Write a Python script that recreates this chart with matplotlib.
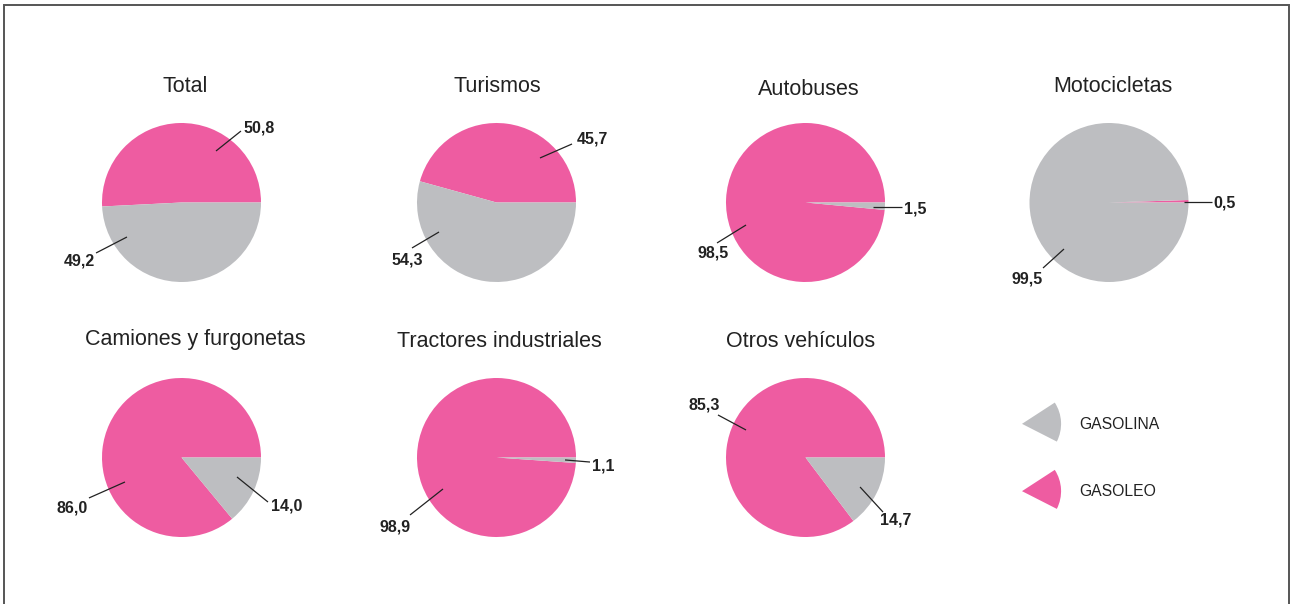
import matplotlib
matplotlib.use("Agg")
import matplotlib.pyplot as plt
from matplotlib.patches import Wedge, Patch, Rectangle
from matplotlib.legend_handler import HandlerBase

plt.rcParams['font.family'] = ['Liberation Sans', 'DejaVu Sans']

# ---------------- data ----------------
titles = ["Total", "Turismos", "Autobuses", "Motocicletas",
          "Camiones y furgonetas", "Tractores industriales", "Otros vehículos"]
gasoleo = [50.8, 45.7, 98.5, 0.5, 86.0, 98.9, 85.3]
gasolina = [49.2, 54.3, 1.5, 99.5, 14.0, 1.1, 14.7]
series_names = ["GASOLINA", "GASOLEO"]

# ---------------- style ----------------
PINK = "#EE5CA1"
GRAY = "#BDBEC1"
TXT = "#222222"

W, H = 1291, 604
R = 79.5  # pie radius in pixels
L = 1.7   # half extent of each pie axes in data units

# pie centers (pixels)
centers = [(181.5, 202.5), (496.5, 202.5), (805.5, 202.5), (1109, 202.5),
           (181.5, 457.5), (496.5, 457.5), (805.5, 457.5)]
# title offsets (data units relative to pie center)
title_pos = [(0.05, 1.46), (0.01, 1.46), (0.04, 1.42), (0.05, 1.46),
             (0.17, 1.48), (0.038, 1.46), (-0.057, 1.46)]

# label layout: (line start, line end, text pos, ha) for gasoleo and gasolina
lab_gasoleo = [
    ((0.434, 0.648), (0.748, 0.899), (0.786, 0.937), 'left'),
    ((0.547, 0.560), (0.950, 0.736), (1.013, 0.799), 'left'),
    ((-0.748, -0.283), (-1.113, -0.509), (-0.962, -0.635), 'right'),
    ((0.943, 0.006), (1.296, 0.006), (1.308, -0.006), 'left'),
    ((-0.711, -0.308), (-1.164, -0.509), (-1.176, -0.635), 'right'),
    ((-0.673, -0.396), (-1.088, -0.723), (-1.075, -0.874), 'right'),
    ((-0.748, 0.346), (-1.101, 0.535), (-1.075, 0.660), 'right'),
]
lab_gasolina = [
    ((-0.686, -0.434), (-1.075, -0.635), (-1.088, -0.736), 'right'),
    ((-0.723, -0.371), (-1.063, -0.572), (-0.925, -0.723), 'right'),
    ((0.849, -0.057), (1.214, -0.057), (1.239, -0.082), 'left'),
    ((-0.566, -0.585), (-0.830, -0.824), (-0.830, -0.962), 'right'),
    ((0.698, -0.245), (1.088, -0.560), (1.126, -0.610), 'left'),
    ((0.862, -0.031), (1.176, -0.057), (1.201, -0.107), 'left'),
    ((0.686, -0.371), (0.975, -0.686), (0.937, -0.786), 'left'),
]


def fmt(v):
    return f"{v:.1f}".replace('.', ',')


fig = plt.figure(figsize=(W / 100, H / 100), dpi=100)
fig.patch.set_facecolor('white')

side = 2 * L * R
for i, t in enumerate(titles):
    cx, cy = centers[i]
    ax = fig.add_axes([(cx - side / 2) / W, 1 - (cy + side / 2) / H, side / W, side / H])
    ax.pie([gasoleo[i], gasolina[i]], colors=[PINK, GRAY], startangle=0,
           counterclock=True, radius=1, center=(0, 0),
           wedgeprops=dict(linewidth=0))
    ax.set_xlim(-L, L)
    ax.set_ylim(-L, L)
    ax.set_aspect('equal')
    ax.axis('off')
    tx, ty = title_pos[i]
    ax.text(tx, ty, t, ha='center', va='center', fontsize=15.5, color=TXT)
    for val, (p1, p2, tp, ha) in ((gasoleo[i], lab_gasoleo[i]), (gasolina[i], lab_gasolina[i])):
        ax.plot([p1[0], p2[0]], [p1[1], p2[1]], color=TXT, lw=0.9, clip_on=False,
                solid_capstyle='butt')
        ax.text(tp[0], tp[1], fmt(val), ha=ha, va='center', fontsize=11.5,
                fontweight='bold', color=TXT)


class HandlerWedge(HandlerBase):
    def create_artists(self, legend, orig_handle, xdescent, ydescent, width,
                       height, fontsize, trans):
        cx = -xdescent
        cy = -ydescent + height / 2
        w = Wedge((cx, cy), width, -27, 33, facecolor=orig_handle.get_facecolor(),
                  linewidth=0, transform=trans)
        return [w]


handles = [Patch(facecolor=GRAY), Patch(facecolor=PINK)]
leg = fig.legend(handles, series_names, handler_map={Patch: HandlerWedge()},
                 loc='center left', bbox_to_anchor=(1022 / W, 1 - 457.5 / H),
                 frameon=False, fontsize=11.3, handlelength=2.49, handleheight=2.42,
                 handletextpad=1.18, labelspacing=2.47, borderpad=0, borderaxespad=0)
for txt in leg.get_texts():
    txt.set_color(TXT)

# outer frame
fig.add_artist(Rectangle((4 / W, -0.05), (1289 - 4) / W, 1.05 - 5 / H,
                         transform=fig.transFigure, fill=False,
                         edgecolor='#555555', linewidth=1.4))

fig.savefig('out.png', dpi=100)
